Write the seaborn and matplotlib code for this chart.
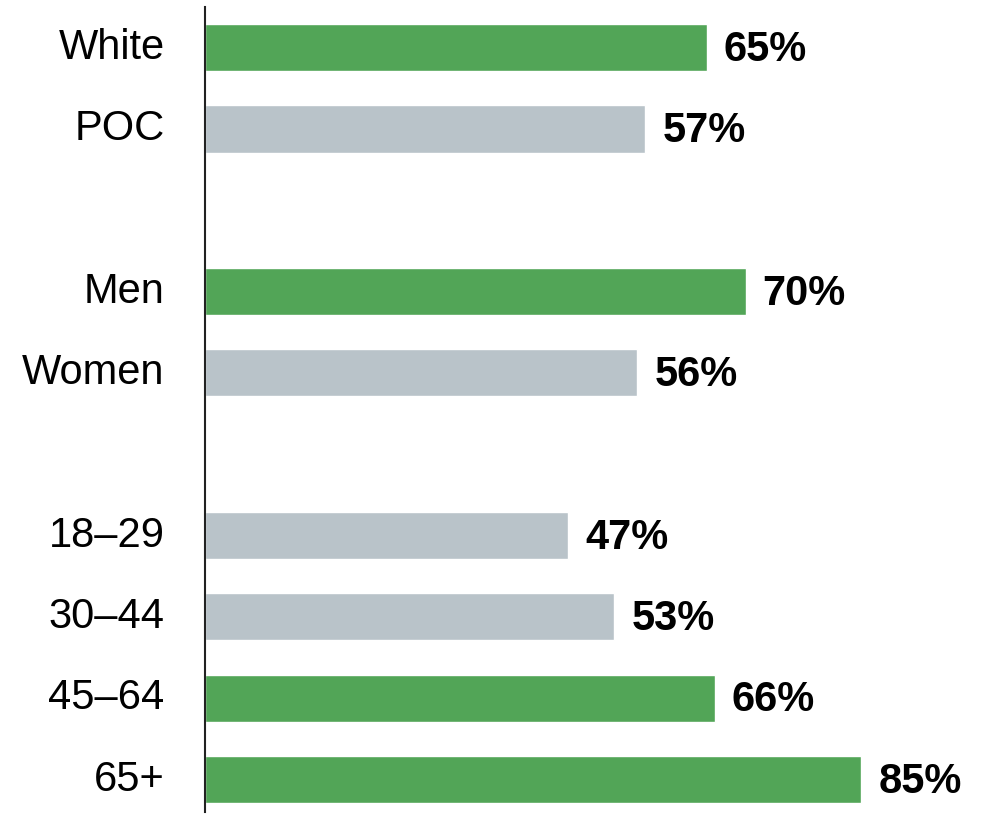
import matplotlib
matplotlib.use("Agg")
import matplotlib.pyplot as plt
import matplotlib.transforms as mtransforms
import seaborn as sns
import pandas as pd
import numpy as np

categories = ["White", "POC", " ", "Men", "Women", "  ", "18–29", "30–44", "45–64", "65+"]
values = [65, 57, np.nan, 70, 56, np.nan, 47, 53, 66, 85]
groups = ["hi", "lo", "none", "hi", "lo", "none", "lo", "lo", "hi", "hi"]
palette = {"hi": "#52A557", "lo": "#B9C3C9", "none": "#FFFFFF"}

sns.set_theme(style="white")
plt.rcParams["font.family"] = ["Liberation Sans", "DejaVu Sans"]

df = pd.DataFrame({"label": categories, "value": values, "group": groups})
df_bars = df.dropna()

fig = plt.figure(figsize=(9.89, 8.14), dpi=100)
ax = fig.add_axes([205 / 989, 2 / 814, 780 / 989, 805 / 814])

sns.barplot(data=df_bars, x="value", y="label", hue="group", palette=palette,
            order=categories, orient="h", dodge=False, legend=False,
            width=0.58, saturation=1, ax=ax)

val_offset = mtransforms.ScaledTranslation(0, -1.5 / 72, fig.dpi_scale_trans)
for i, (lab, v) in enumerate(zip(categories, values)):
    if not np.isnan(v):
        ax.text(v + 2.2, i, f"{int(v)}%", va="center", ha="left",
                fontsize=30, fontweight="bold", color="black",
                transform=ax.transData + val_offset)

ax.set_xlim(0, 101)
ax.set_ylim(9.4, -0.5)
ax.set_xlabel("")
ax.set_ylabel("")
ax.set_xticks([])
ax.tick_params(axis="y", length=0, pad=29, labelsize=30, labelcolor="black")
lab_offset = mtransforms.ScaledTranslation(0, 3 / 72, fig.dpi_scale_trans)
for t in ax.get_yticklabels():
    t.set_transform(t.get_transform() + lab_offset)
for s in ["top", "right", "bottom"]:
    ax.spines[s].set_visible(False)
ax.spines["left"].set_color("#222222")
ax.spines["left"].set_linewidth(1.5)

fig.savefig("out.png", dpi=100)
